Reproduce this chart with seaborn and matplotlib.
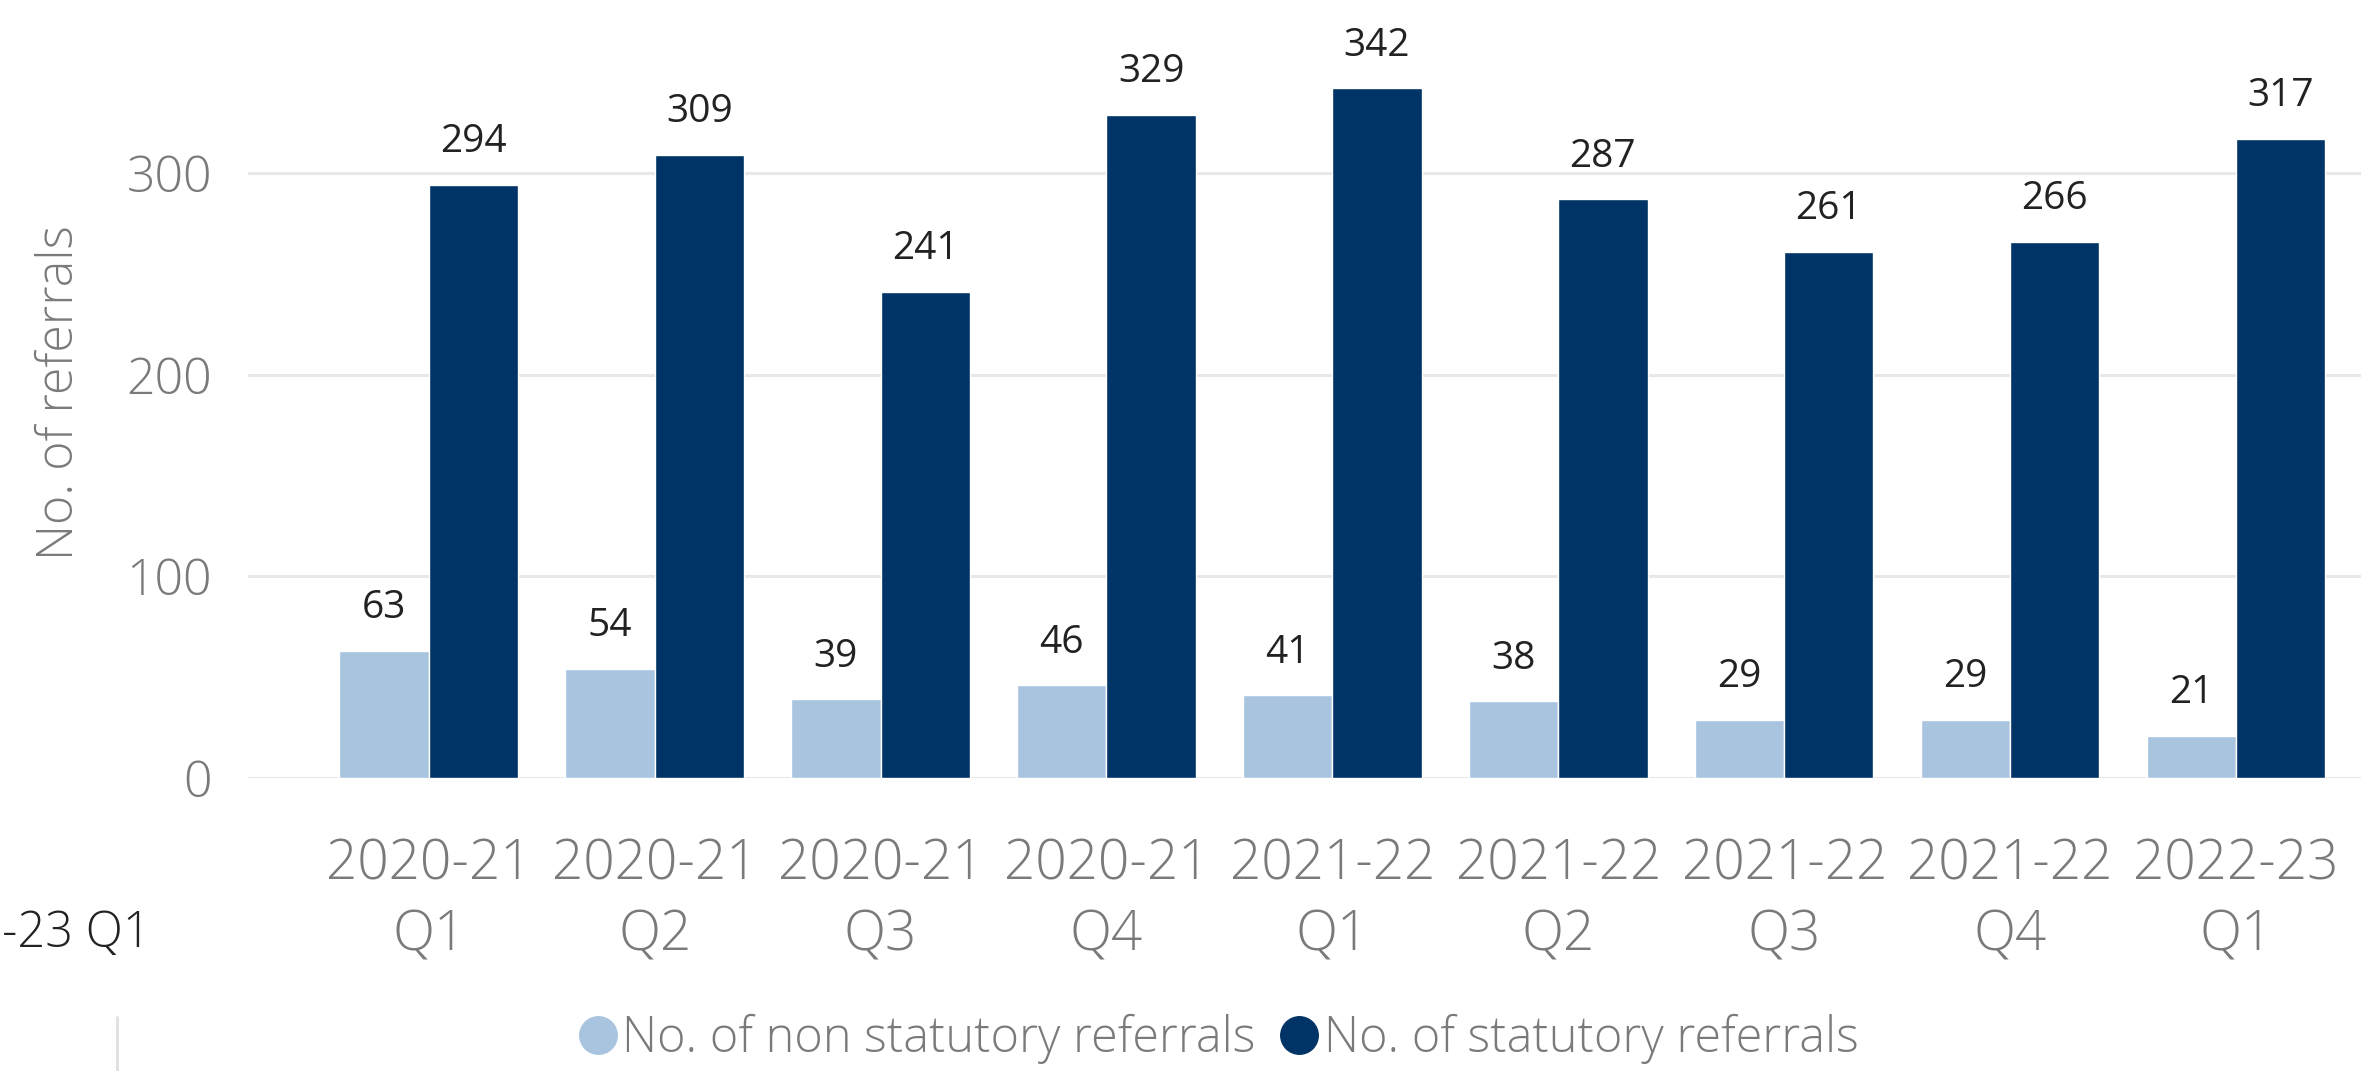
import matplotlib
matplotlib.use("Agg")
import matplotlib.pyplot as plt
from matplotlib.lines import Line2D
import seaborn as sns
import pandas as pd

quarters = ["2020-21\nQ1", "2020-21\nQ2", "2020-21\nQ3", "2020-21\nQ4",
            "2021-22\nQ1", "2021-22\nQ2", "2021-22\nQ3", "2021-22\nQ4",
            "2022-23\nQ1"]
non_statutory = [63, 54, 39, 46, 41, 38, 29, 29, 21]
statutory = [294, 309, 241, 329, 342, 287, 261, 266, 317]
series_names = ["No. of non statutory referrals", "No. of statutory referrals"]
colors = ["#A9C4DF", "#003366"]
y_ticks = [0, 100, 200, 300]

df = pd.DataFrame({
    "quarter": quarters * 2,
    "series": [series_names[0]] * len(quarters) + [series_names[1]] * len(quarters),
    "value": non_statutory + statutory,
})

sns.set_theme(style="white")
plt.rcParams["font.family"] = ["Open Sans", "DejaVu Sans"]

W, H = 2361, 1071
fig = plt.figure(figsize=(W / 100, H / 100), dpi=100)
ax = fig.add_axes([248 / W, 1 - 778 / H, 1 - 248 / W, 726 / H])

sns.barplot(data=df, x="quarter", y="value", hue="series", order=quarters,
            hue_order=series_names, palette=colors, width=0.79, saturation=1,
            ax=ax, legend=False, zorder=3)

ax.set_xlim(-0.8, 8.553)
ax.set_ylim(0, 360)
ax.set_yticks(y_ticks)
ax.grid(axis="y", color="#E8E8E8", linewidth=2.2, zorder=0)
ax.grid(axis="x", visible=False)
for s in ax.spines.values():
    s.set_visible(False)

gray = "#7A7A7A"
ax.tick_params(axis="y", length=0, pad=26, labelsize=36, labelcolor=gray)
ax.tick_params(axis="x", length=0, pad=43, labelsize=39.5, labelcolor=gray)
for lbl in ax.get_xticklabels():
    lbl.set_linespacing(1.37)
    lbl.set_fontweight("light")
for lbl in ax.get_yticklabels():
    lbl.set_fontweight("light")
ax.set_xlabel("")
ax.set_ylabel("")

for cont in ax.containers:
    ax.bar_label(cont, padding=17, fontsize=28, color="#222222", clip_on=False)

fig.text(60 / W, 1 - 393 / H, "No. of referrals", rotation=90, ha="center",
         va="center", fontsize=36, color=gray, fontweight="light")

# partially visible label at the left edge
fig.text(2 / W, 1 - 934 / H, "-23 Q1", ha="left", va="center",
         fontsize=35, color="#222222", fontweight="light")
fig.add_artist(Line2D([117 / W, 117 / W], [0, 54 / H], color="#E0E0E0", linewidth=2))

handles = [Line2D([0], [0], marker="o", linestyle="", markersize=27,
                  markerfacecolor=c, markeredgecolor=c) for c in colors]
leg = fig.legend(handles, series_names, loc="center", bbox_to_anchor=(0.515, 32 / H),
                 ncol=2, frameon=False, fontsize=35, handletextpad=0.0,
                 columnspacing=0.4, handlelength=1.0)
for t in leg.get_texts():
    t.set_color(gray)
    t.set_fontweight("light")

fig.savefig("out.png", dpi=100)
